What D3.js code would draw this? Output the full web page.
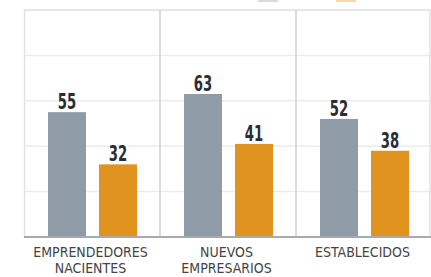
<!DOCTYPE html>
<html>
<head>
<meta charset="utf-8">
<script src="https://cdn.jsdelivr.net/npm/d3@7"></script>
<style>
  body { margin: 0; background: #fff; }
  svg { display: block; }
</style>
</head>
<body>
<div class="chart"></div>
<script>
const width = 431;
const height = 277;

// data
const categories = ['EMPRENDEDORES NACIENTES', 'NUEVOS EMPRESARIOS', 'ESTABLECIDOS'];
const series = ['gris', 'naranja'];
const valuesGris = [55, 63, 52];
const valuesNaranja = [32, 41, 38];
const yTicks = [0, 20, 40, 60, 80, 100];

const colors = { gris: '#8f9ba6', naranja: '#e0941f' };

const margin = { top: 10, right: 0, bottom: 40, left: 24 };
const font = '"DejaVu Sans Condensed", "Liberation Sans Narrow", sans-serif';

const svg = d3
  .select('.chart')
  .append('svg')
  .attr('width', width)
  .attr('height', height)
  .attr('viewBox', [0, 0, width, height]);

const x0 = d3
  .scaleBand()
  .domain(categories)
  .range([margin.left, 432])
  .padding(0);

// bar pair sits inside each panel
const x1 = d3
  .scaleBand()
  .domain(series)
  .range([24, 113])
  .paddingInner(0.255);

const y = d3
  .scaleLinear()
  .domain([0, 100])
  .range([237, margin.top]);

// light grid lines
svg
  .append('g')
  .selectAll('line')
  .data(yTicks.slice(1))
  .join('line')
  .attr('x1', margin.left)
  .attr('x2', width)
  .attr('y1', (d) => y(d))
  .attr('y2', (d) => y(d))
  .attr('stroke', '#ececec')
  .attr('stroke-width', 1.5);

// frame
svg
  .append('rect')
  .attr('x', margin.left + 0.5)
  .attr('y', y(100))
  .attr('width', width - margin.left - 1.5)
  .attr('height', y(0) - y(100))
  .attr('fill', 'none')
  .attr('stroke', '#e2e2e2')
  .attr('stroke-width', 1.5);

// panel dividers
svg
  .append('g')
  .selectAll('line')
  .data(categories.slice(1))
  .join('line')
  .attr('x1', (d) => x0(d))
  .attr('x2', (d) => x0(d))
  .attr('y1', y(100))
  .attr('y2', y(0))
  .attr('stroke', '#cfcfcf')
  .attr('stroke-width', 1.5);

const rows = categories.map((c, i) => ({
  cat: c,
  vals: [
    { key: 'gris', value: valuesGris[i] },
    { key: 'naranja', value: valuesNaranja[i] },
  ],
}));

const group = svg
  .append('g')
  .selectAll('g')
  .data(rows)
  .join('g')
  .attr('transform', (d) => `translate(${x0(d.cat)},0)`);

group
  .selectAll('rect')
  .data((d) => d.vals)
  .join('rect')
  .attr('x', (d) => x1(d.key))
  .attr('y', (d) => y(d.value))
  .attr('width', x1.bandwidth())
  .attr('height', (d) => y(0) - y(d.value))
  .attr('fill', (d) => colors[d.key]);

// narrow bold value labels (squeezed horizontally)
group
  .selectAll('text.val')
  .data((d) => d.vals)
  .join('text')
  .attr('class', 'val')
  .attr(
    'transform',
    (d) => `translate(${x1(d.key) + x1.bandwidth() / 2},${y(d.value) - 3}) scale(0.7,1)`
  )
  .attr('text-anchor', 'middle')
  .attr('font-family', font)
  .attr('font-weight', 'bold')
  .attr('font-size', 21)
  .attr('fill', '#2a2d33')
  .text((d) => d.value);

// baseline
svg
  .append('line')
  .attr('x1', margin.left)
  .attr('x2', width)
  .attr('y1', y(0))
  .attr('y2', y(0))
  .attr('stroke', '#a9a9a9')
  .attr('stroke-width', 2);

// category labels, two lines
const catLabels = [['EMPRENDEDORES', 'NACIENTES'], ['NUEVOS', 'EMPRESARIOS'], ['ESTABLECIDOS']];

svg
  .append('g')
  .selectAll('text')
  .data(categories)
  .join('text')
  .attr('x', (d) => x0(d) + 24 + 89 / 2 - 2)
  .attr('y', 257)
  .attr('text-anchor', 'middle')
  .attr('font-family', font)
  .attr('font-size', 14)
  .attr('fill', '#444')
  .each(function (d, i) {
    const t = d3.select(this);
    catLabels[i].forEach((line, j) => {
      t.append('tspan')
        .attr('x', t.attr('x'))
        .attr('dy', j === 0 ? 0 : 16)
        .text(line);
    });
  });

// legend, cut off by the top edge in the original
const legend = svg.append('g');
legend
  .selectAll('rect')
  .data(series)
  .join('rect')
  .attr('x', (d, i) => 258 + i * 78)
  .attr('y', -6)
  .attr('width', 20)
  .attr('height', 8)
  .attr('fill', (d) => colors[d])
  .attr('opacity', 0.35);
</script>
</body>
</html>
